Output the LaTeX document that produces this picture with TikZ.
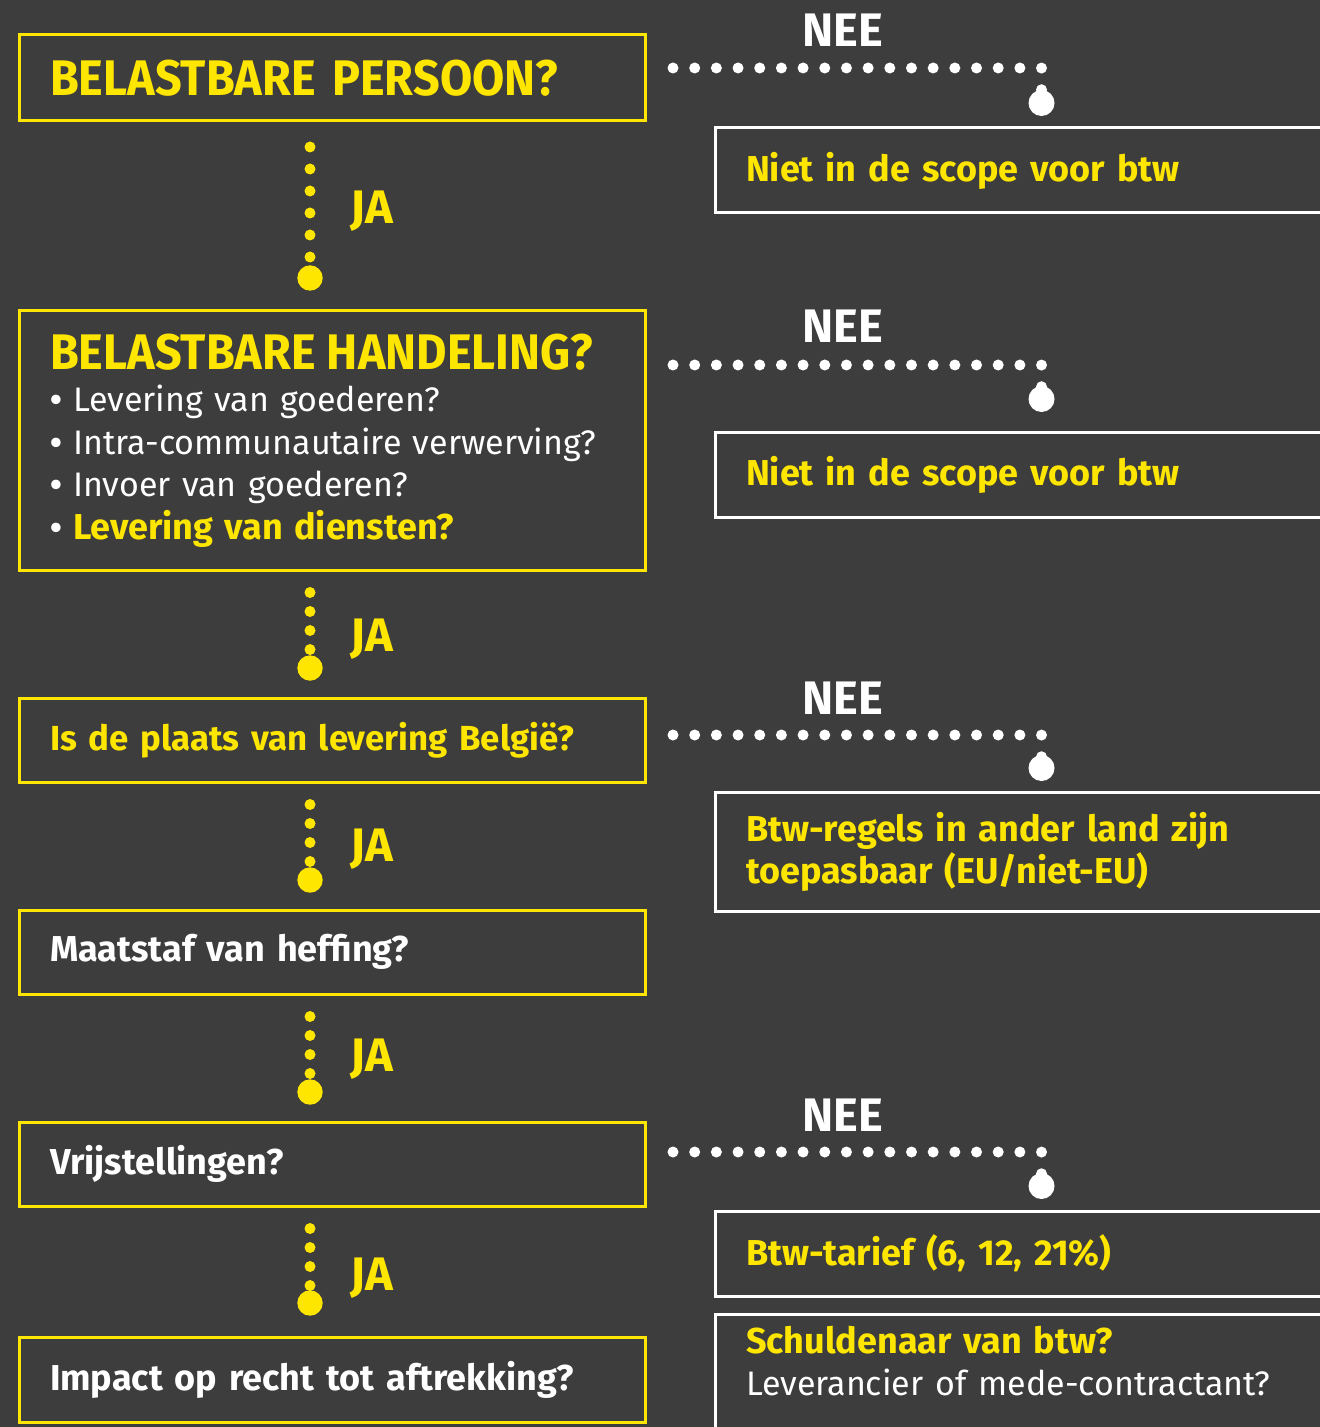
\documentclass[tikz,border=0pt]{standalone}
\usepackage{fontspec}
\setmainfont{Fira Sans}
\newfontfamily\smalfont{Fira Sans}[FakeStretch=0.935]
\usepackage{tikz}

\definecolor{achtergrond}{HTML}{3D3D3D}
\definecolor{geel}{HTML}{FFE600}

\newcommand{\titelfont}{\smalfont\bfseries\fontsize{25}{30}\selectfont}
\newcommand{\vakfont}{\bfseries\fontsize{18}{21}\selectfont}
\newcommand{\lijstfont}{\mdseries\fontsize{17}{21.3}\selectfont}
\newcommand{\jafont}{\bfseries\fontsize{23.5}{26}\selectfont}

\begin{document}
\begin{tikzpicture}[x=1pt, y=-1pt,
  vraag/.style={draw=geel, line width=1.5pt, outer sep=0pt, anchor=north west,
    text width=282pt, inner xsep=15.5pt, inner ysep=0pt, align=left,
    text=white, font=\vakfont},
  gevolg/.style={draw=white, line width=1.5pt, outer sep=0pt, anchor=north west,
    text width=400pt, inner xsep=15.5pt, inner ysep=0pt, align=left,
    text=geel, font=\vakfont},
  ja/.style={text=geel, font=\jafont, anchor=base west, inner sep=0pt},
  nee/.style={text=white, font=\jafont, anchor=base, inner sep=0pt},
  jadots/.style={geel, line width=5.5pt, line cap=round, dash pattern=on 0pt off #1},
  jadots/.default=9.5pt,
  needots/.style={white, line width=5.5pt, line cap=round,
    dash pattern=on 0pt off 10.84pt, shorten <=14pt}]

% background
\fill[achtergrond] (0,0) rectangle (660,713.5);
\useasboundingbox (0,0) rectangle (660,713.5);
\clip (0,0) rectangle (660,713.5);

% draw question boxes
\node[vraag, minimum height=43pt, text=geel, font=\titelfont] (b1) at (9.5,17.5) {\hbox{BELASTBARE PERSOON?}};
\node[vraag, minimum height=129.5pt, font=\lijstfont] (b2) at (9.5,155.5)
  {\hbox{\titelfont\color{geel}BELASTBARE HANDELING?}\\
   {\bfseries•} Levering van goederen?\\
   {\bfseries•} Intra-communautaire verwerving?\\
   {\bfseries•} Invoer van goederen?\\
   {\bfseries•} {\vakfont\color{geel}Levering van diensten?}};
\node[vraag, minimum height=42pt, text=geel, font=\bfseries\fontsize{17.4}{21}\selectfont] (b3) at (9.5,349) {Is de plaats van levering België?};
\node[vraag, minimum height=42pt] (b4) at (9.5,455) {Maatstaf van heffing?};
\node[vraag, minimum height=42pt] (b5) at (9.5,561) {Vrijstellingen?};
\node[vraag, minimum height=42.5pt] (b6) at (9.5,668.5) {Impact op recht tot aftrekking?};

% draw outcome boxes (open to the right)
\node[gevolg, minimum height=42.5pt] (r1) at (357.5,64) {Niet in de scope voor btw};
\node[gevolg, minimum height=42.5pt] (r2) at (357.5,216) {Niet in de scope voor btw};
\node[gevolg, minimum height=59.5pt] (r3) at (357.5,396) {Btw-regels in ander land zijn\\ toepasbaar (EU/niet-EU)};
\node[gevolg, minimum height=42.5pt] (r4) at (357.5,605.5) {Btw-tarief (6, 12, 21\%)};
\node[gevolg, inner ysep=6pt, text depth=40pt] (r5) at (357.5,657)
  {Schuldenaar van btw?\\ {\lijstfont\color{white}Leverancier of mede-contractant?}};

% draw JA connectors
\coordinate (j1) at (155,139);
\coordinate (j2) at (155,334);
\coordinate (j3) at (155,440);
\coordinate (j4) at (155,546);
\coordinate (j5) at (155,651.5);

\draw[jadots=11pt, shorten <=13pt] (b1.south -| j1) -- (j1);
\fill[geel] (j1) circle (6.35);
\foreach \boven/\punt in {b2/j2, b3/j3, b4/j4, b5/j5} {
  \draw[jadots, shorten <=11.25pt] (\boven.south -| \punt) -- (\punt);
  \fill[geel] (\punt) circle (6.35);
}

\node[ja] (ja1) at (175,112) {JA};
\node[ja] (ja2) at (175,325.5) {JA};
\node[ja] (ja3) at (175,430.5) {JA};
\node[ja] (ja4) at (175,535.5) {JA};
\node[ja] (ja5) at (175,645) {JA};

% draw NEE connectors
\coordinate (k1) at (520.75,34);    \coordinate (d1) at (520.75,51.5);
\coordinate (k2) at (520.75,182.5); \coordinate (d2) at (520.75,199.5);
\coordinate (k3) at (520.75,367.5); \coordinate (d3) at (520.75,384);
\coordinate (k4) at (520.75,576);   \coordinate (d4) at (520.75,593);

\foreach \vak/\i in {b1/1, b2/2, b3/3, b5/4} {
  \draw[needots] (\vak.east |- k\i) -- (k\i) -- (d\i);
  \fill[white] (d\i) circle (6.5);
}

\node[nee] (nee1) at (421.5,23.5) {NEE};
\node[nee] (nee2) at (421.5,171.5) {NEE};
\node[nee] (nee3) at (421.5,357) {NEE};
\node[nee] (nee4) at (421.5,565.5) {NEE};

\end{tikzpicture}
\end{document}
